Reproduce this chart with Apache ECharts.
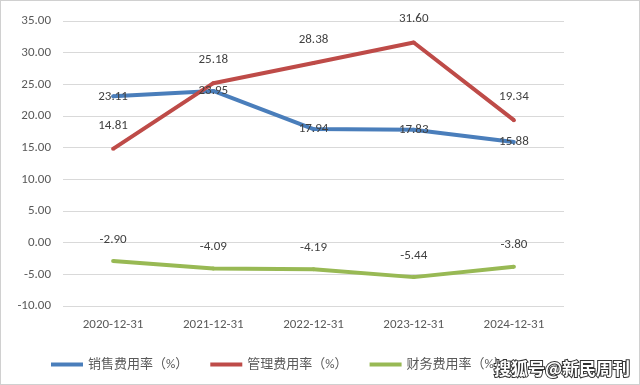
<!DOCTYPE html>
<html><head><meta charset="utf-8">
<script src="https://cdn.jsdelivr.net/npm/echarts@6/dist/echarts.min.js"></script>
<style>html,body{margin:0;padding:0;background:#fff}#c{width:640px;height:385px;box-sizing:border-box;border:1px solid #d0d0d0}</style>
</head><body><div id="c"></div>
<script>
const categories = ['2020-12-31','2021-12-31','2022-12-31','2023-12-31','2024-12-31'];
const salesRate = [23.11, 23.95, 17.94, 17.83, 15.88];
const adminRate = [14.81, 25.18, 28.38, 31.60, 19.34];
const financeRate = [-2.90, -4.09, -4.19, -5.44, -3.80];
const seriesNames = ['销售费用率（%）','管理费用率（%）','财务费用率（%）'];

const font = 'Calibri, "Liberation Sans", "Noto Sans CJK SC", sans-serif';
const chart = echarts.init(document.getElementById('c'));
function mk(name, data, color, pos, dy) {
  return {
    name, type: 'line', data, symbol: 'circle', symbolSize: 4, showSymbol: true,
    lineStyle: {color, width: 4}, itemStyle: {color},
    label: {show: true, position: pos, offset: [0, dy], color: '#404040', fontSize: 13, fontFamily: font,
      formatter: p => p.value.toFixed(2)}
  };
}
chart.setOption({
  animation: false,
  textStyle: {fontFamily: font},
  grid: {left: 62, right: 75, top: 20, bottom: 78},
  legend: {bottom: 8, left: 45, itemWidth: 32, itemHeight: 4, itemGap: 22, icon: 'rect',
    textStyle: {color: '#595959', fontSize: 13, fontFamily: font}, data: seriesNames},
  xAxis: {type: 'category', data: categories, boundaryGap: true,
    axisLine: {show: false}, axisTick: {show: false},
    axisLabel: {color: '#595959', fontSize: 13, margin: 12}},
  yAxis: {type: 'value', min: -10, max: 35, interval: 5,
    axisLine: {show: false}, axisTick: {show: false},
    splitLine: {lineStyle: {color: '#d9d9d9', width: 1}},
    axisLabel: {color: '#595959', fontSize: 13, margin: 12, formatter: v => v.toFixed(2)}},
  series: [
    mk(seriesNames[0], salesRate, '#4a7ebb', 'inside', 0),
    mk(seriesNames[1], adminRate, '#be4b48', 'top', -10),
    mk(seriesNames[2], financeRate, '#98b954', 'top', -8)
  ],
  graphic: [{type: 'text', right: 8, bottom: 6, style: {text: '搜狐号@新民周刊', fill: '#fff', stroke: '#333', lineWidth: 2,
    fontSize: 17, fontWeight: 'bold', fontFamily: '"Noto Sans CJK SC", sans-serif'}}]
});
</script></body></html>
